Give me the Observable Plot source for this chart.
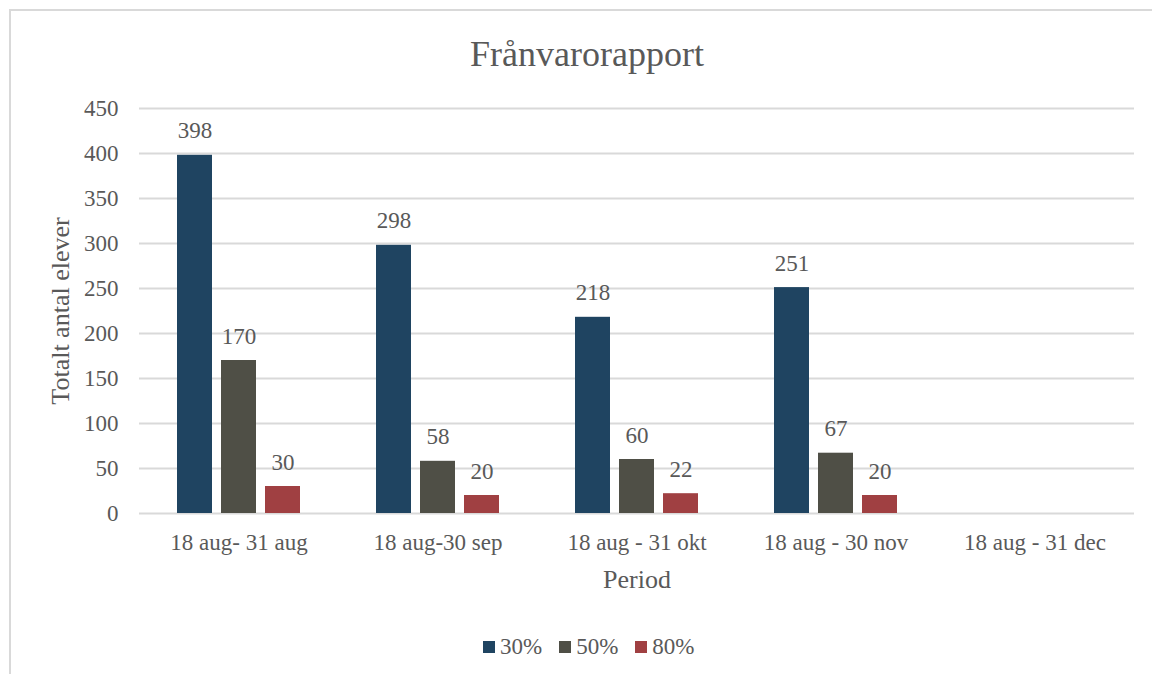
<!DOCTYPE html>
<html>
<head>
<meta charset="utf-8">
<script src="https://cdn.jsdelivr.net/npm/d3@7"></script>
<script src="https://cdn.jsdelivr.net/npm/@observablehq/plot@0.6"></script>
<style>
  html, body { margin: 0; padding: 0; background: #fff; }
  #wrap { position: relative; width: 1152px; height: 674px; overflow: hidden; font-family: "Liberation Serif", "Times New Roman", serif; color: #595959; }
  #frame { position: absolute; left: 9px; top: 9px; width: 1300px; height: 800px; border: 2px solid #d9d9d9; box-sizing: border-box; }
  #title { position: absolute; left: 0; top: 36px; width: 1174px; text-align: center; font-size: 36px; line-height: 36px; }
  #chart { position: absolute; left: 0; top: 0; }
  #legend { position: absolute; left: 483px; top: 635px; display: flex; gap: 17px; font-size: 23px; line-height: 23px; }
  .item { display: inline-flex; align-items: center; gap: 5px; }
  .sw { width: 12px; height: 12px; display: inline-block; }
</style>
</head>
<body>
<div id="wrap">
  <div id="frame"></div>
  <div id="chart"></div>
  <div id="title"></div>
  <div id="legend"></div>
</div>
<script>
const titleText = "Frånvarorapport";
const yLabel = "Totalt antal elever";
const xLabel = "Period";
const periods = ["18 aug- 31 aug", "18 aug-30 sep", "18 aug - 31 okt", "18 aug - 30 nov", "18 aug - 31 dec"];
const series = ["30%", "50%", "80%"];
const colors = ["#1f4461", "#4f4f46", "#a04042"];
const values30 = [398, 298, 218, 251, null];
const values50 = [170, 58, 60, 67, null];
const values80 = [30, 20, 22, 20, null];
const yTicks = [0, 50, 100, 150, 200, 250, 300, 350, 400, 450];

const seriesValues = [values30, values50, values80];
const data = [];
periods.forEach((p, i) => {
  series.forEach((s, j) => {
    data.push({period: p, series: s, value: seriesValues[j][i]});
  });
});
const labelled = data.filter(d => d.value != null);

const textColor = "#595959";
const serif = '"Liberation Serif", "Times New Roman", serif';
const chart = Plot.plot({
  width: 1152,
  height: 600,
  marginLeft: 138,
  marginRight: 18,
  marginTop: 108,
  marginBottom: 87,
  style: {fontFamily: serif, fontSize: "23px", color: textColor, background: "transparent", overflow: "visible"},
  fx: {domain: periods, padding: 0},
  x: {domain: series, paddingInner: 0.2, paddingOuter: 0.86, axis: null},
  y: {domain: [0, 450]},
  color: {domain: series, range: colors},
  marks: [
    Plot.gridY(yTicks, {stroke: "#d9d9d9", strokeOpacity: 1, strokeWidth: 2}),
    Plot.barY(data, {fx: "period", x: "series", y: "value", fill: "series"}),
    Plot.text(labelled, {fx: "period", x: "series", y: "value", text: d => String(d.value), lineAnchor: "bottom", dy: -17, fill: textColor, fontSize: 23, fontFamily: serif}),
    Plot.axisY({ticks: yTicks, tickSize: 0, tickPadding: 21, label: null, fill: textColor, fontSize: 23, fontFamily: serif}),
    Plot.axisY({ticks: [], tickSize: 0, label: yLabel, labelAnchor: "center", labelOffset: 89, labelArrow: false, fill: textColor, fontSize: 26, fontFamily: serif}),
    Plot.axisFx({anchor: "bottom", tickSize: 0, tickPadding: 20, label: null, fill: textColor, fontSize: 23, fontFamily: serif}),
    Plot.axisFx({anchor: "bottom", ticks: [], tickSize: 0, label: xLabel, labelAnchor: "center", labelOffset: 74, labelArrow: false, fill: textColor, fontSize: 26, fontFamily: serif})
  ]
});
document.getElementById("chart").appendChild(chart);
document.getElementById("title").textContent = titleText;

const legend = document.getElementById("legend");
series.forEach((s, i) => {
  const item = document.createElement("span");
  item.className = "item";
  const sw = document.createElement("span");
  sw.className = "sw";
  sw.style.background = colors[i];
  const t = document.createElement("span");
  t.textContent = s;
  item.appendChild(sw);
  item.appendChild(t);
  legend.appendChild(item);
});
</script>
</body>
</html>
